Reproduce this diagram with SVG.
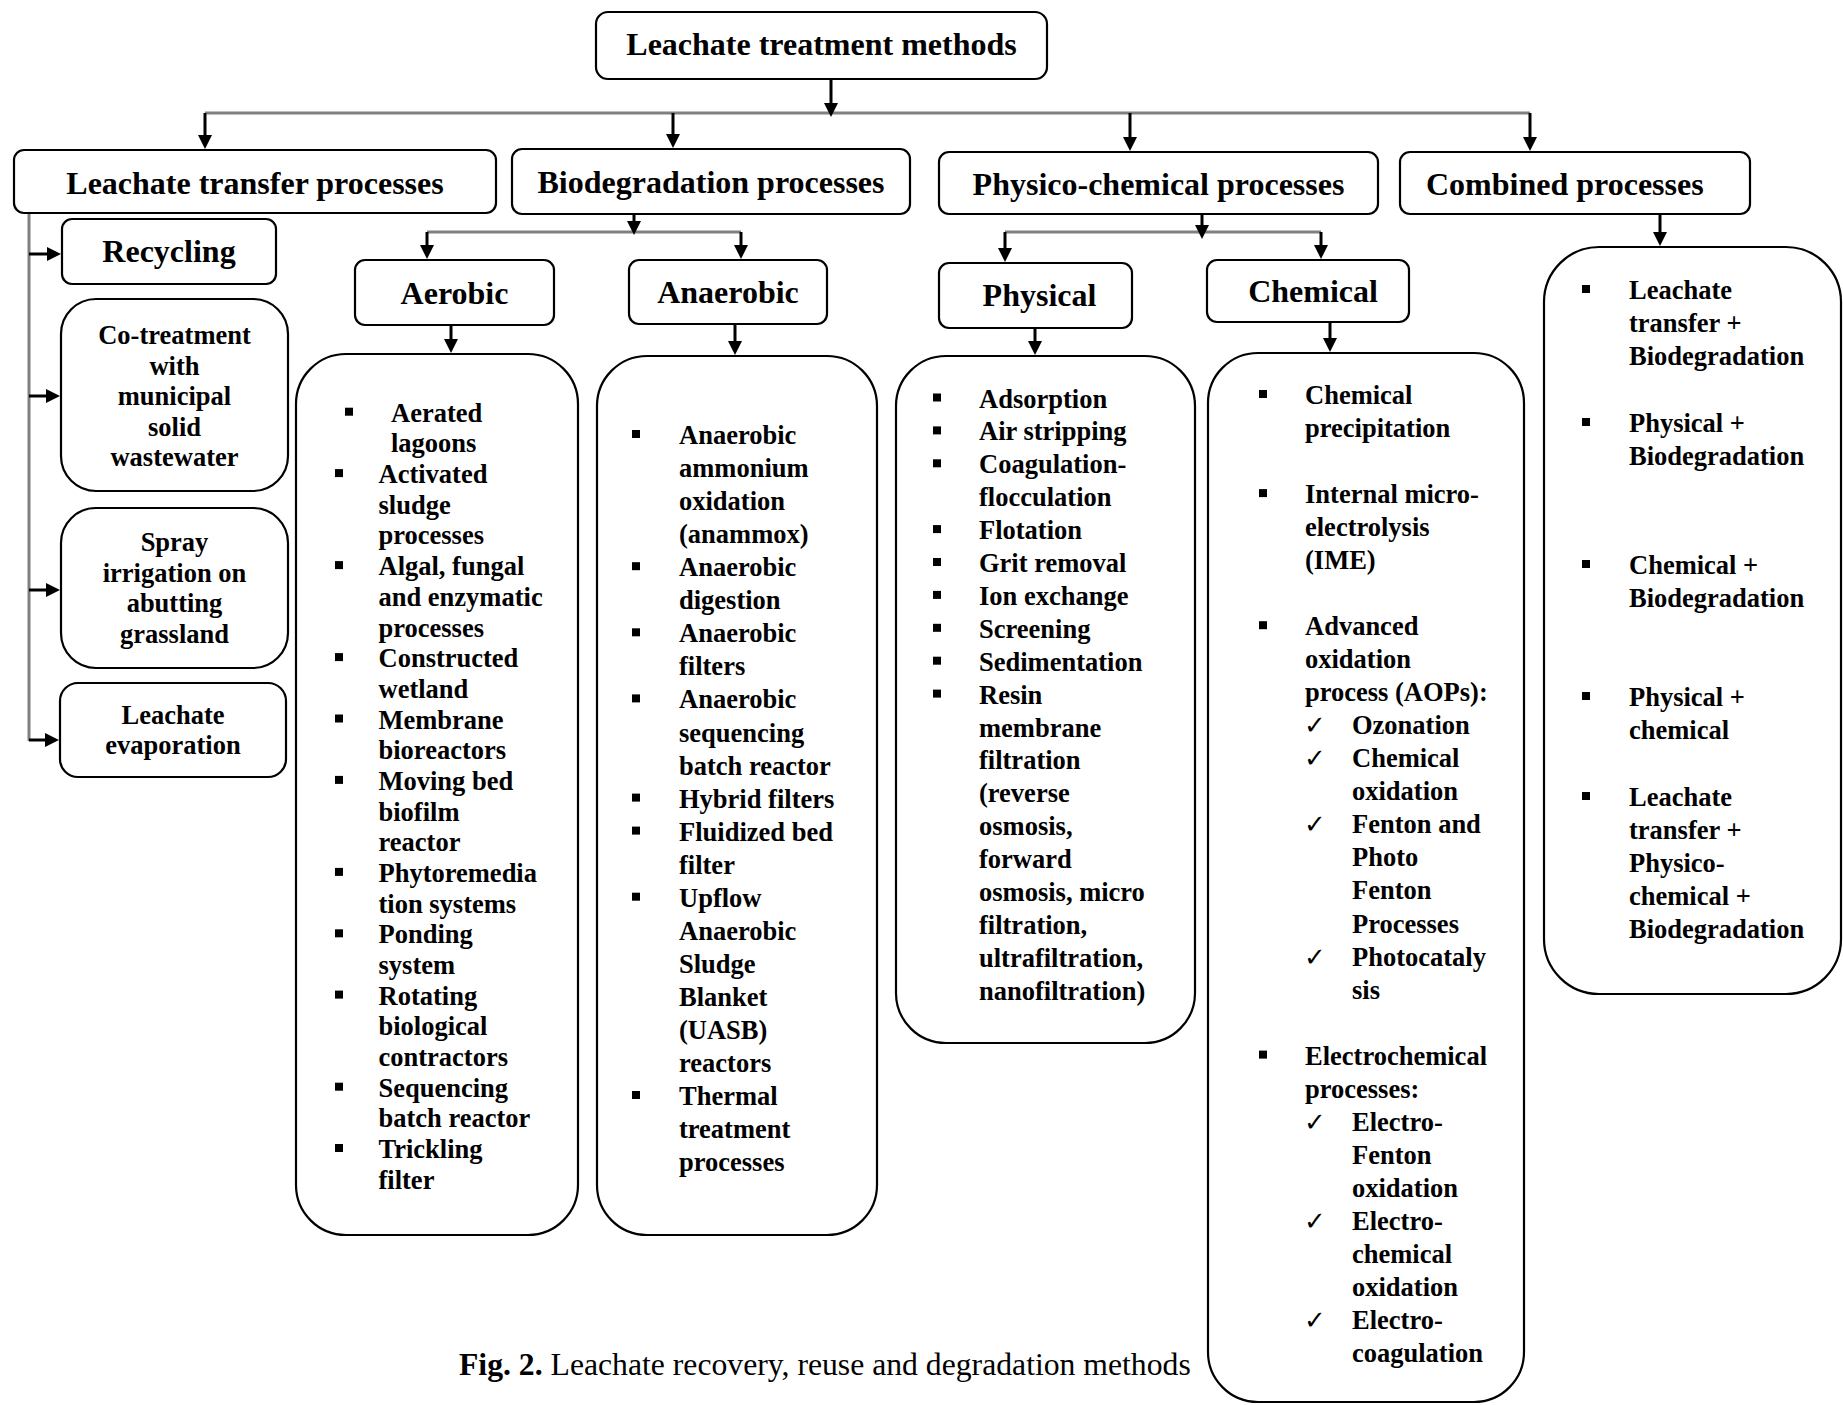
<svg xmlns="http://www.w3.org/2000/svg" width="1843" height="1405" viewBox="0 0 1843 1405">
<style>
.box{fill:#fff;stroke:#000;stroke-width:2.2}
.h1{font-family:"Liberation Serif","Times New Roman",serif;font-weight:bold;font-size:32px;fill:#000}
.li{font-family:"Liberation Serif","Times New Roman",serif;font-weight:bold;font-size:26.5px;fill:#000}
.ck{font-family:"DejaVu Sans",sans-serif;font-size:26px;fill:#000}
.cap{font-family:"Liberation Serif","Times New Roman",serif;font-size:31.7px;fill:#000}
.shaft{stroke:#000;stroke-width:3;fill:none}
.gray{stroke:#808080;stroke-width:3;fill:none}
.bul{fill:#000}
</style>
<defs>
<marker id="ah" viewBox="0 0 14 14" refX="10" refY="7" markerWidth="14" markerHeight="14" markerUnits="userSpaceOnUse" orient="auto">
<path d="M0,0 L14,7 L0,14 z" fill="#000"/>
</marker>
</defs>
<rect width="1843" height="1405" fill="#fff"/>

<g id="connectors">
<line class="gray" x1="205" y1="113" x2="1530" y2="113"/>
<line class="shaft" x1="831" y1="79" x2="831" y2="113" marker-end="url(#ah)"/>
<line class="shaft" x1="205" y1="113" x2="205" y2="145" marker-end="url(#ah)"/>
<line class="shaft" x1="673" y1="113" x2="673" y2="144" marker-end="url(#ah)"/>
<line class="shaft" x1="1130" y1="113" x2="1130" y2="147" marker-end="url(#ah)"/>
<line class="shaft" x1="1530" y1="113" x2="1530" y2="147" marker-end="url(#ah)"/>
<line class="gray" x1="427" y1="232" x2="741" y2="232"/>
<line class="shaft" x1="634" y1="214" x2="634" y2="231" marker-end="url(#ah)"/>
<line class="shaft" x1="427" y1="232" x2="427" y2="255" marker-end="url(#ah)"/>
<line class="shaft" x1="741" y1="232" x2="741" y2="255" marker-end="url(#ah)"/>
<line class="gray" x1="1005" y1="232" x2="1321" y2="232"/>
<line class="shaft" x1="1202" y1="214" x2="1202" y2="235" marker-end="url(#ah)"/>
<line class="shaft" x1="1005" y1="232" x2="1005" y2="258" marker-end="url(#ah)"/>
<line class="shaft" x1="1321" y1="232" x2="1321" y2="255" marker-end="url(#ah)"/>
<line class="shaft" x1="1660" y1="214" x2="1660" y2="242" marker-end="url(#ah)"/>
<line class="shaft" x1="451" y1="326" x2="451" y2="349" marker-end="url(#ah)"/>
<line class="shaft" x1="735" y1="324" x2="735" y2="351" marker-end="url(#ah)"/>
<line class="shaft" x1="1035" y1="328" x2="1035" y2="351" marker-end="url(#ah)"/>
<line class="shaft" x1="1330" y1="322" x2="1330" y2="348" marker-end="url(#ah)"/>
<line class="gray" x1="29" y1="213" x2="29" y2="741" stroke-width="2.5"/>
<line class="shaft" x1="29" y1="254" x2="57" y2="254" marker-end="url(#ah)"/>
<line class="shaft" x1="29" y1="396" x2="56" y2="396" marker-end="url(#ah)"/>
<line class="shaft" x1="29" y1="590" x2="56" y2="590" marker-end="url(#ah)"/>
<line class="shaft" x1="29" y1="740" x2="55" y2="740" marker-end="url(#ah)"/>
</g>

<g id="root">
<rect class="box" x="596" y="12" width="451" height="67" rx="12"/>
<text class="h1" x="821.5" y="55" text-anchor="middle">Leachate treatment methods</text>
</g>

<g id="transfer">
<rect class="box" x="14" y="150" width="482" height="63" rx="10"/>
<text class="h1" x="255" y="194" text-anchor="middle">Leachate transfer processes</text>
</g>
<g id="biodegradation">
<rect class="box" x="512" y="149" width="398" height="65" rx="10"/>
<text class="h1" x="711" y="193" text-anchor="middle">Biodegradation processes</text>
</g>
<g id="physicochemical">
<rect class="box" x="939" y="152" width="439" height="62" rx="10"/>
<text class="h1" x="1158.5" y="195" text-anchor="middle">Physico-chemical processes</text>
</g>
<g id="combined">
<rect class="box" x="1400" y="152" width="350" height="62" rx="10"/>
<text class="h1" x="1426" y="195">Combined processes</text>
</g>

<g id="recycling">
<rect class="box" x="62" y="219" width="214" height="65" rx="10"/>
<text class="h1" x="169" y="262" text-anchor="middle">Recycling</text>
</g>
<g id="cotreatment">
<rect class="box" x="61" y="299" width="227" height="192" rx="35"/>
<text class="li" text-anchor="middle"><tspan x="174.5" y="344">Co-treatment</tspan><tspan x="174.5" y="374.5">with</tspan><tspan x="174.5" y="405">municipal</tspan><tspan x="174.5" y="435.5">solid</tspan><tspan x="174.5" y="466">wastewater</tspan></text>
</g>
<g id="spray">
<rect class="box" x="61" y="508" width="227" height="160" rx="35"/>
<text class="li" text-anchor="middle"><tspan x="174.5" y="551">Spray</tspan><tspan x="174.5" y="581.7">irrigation on</tspan><tspan x="174.5" y="612.3">abutting</tspan><tspan x="174.5" y="643">grassland</tspan></text>
</g>
<g id="evaporation">
<rect class="box" x="60" y="683" width="226" height="94" rx="18"/>
<text class="li" text-anchor="middle"><tspan x="173" y="723.5">Leachate</tspan><tspan x="173" y="753.5">evaporation</tspan></text>
</g>

<g id="aerobic">
<rect class="box" x="355" y="260" width="199" height="65" rx="10"/>
<text class="h1" x="454.5" y="304" text-anchor="middle">Aerobic</text>
</g>
<g id="anaerobic">
<rect class="box" x="629" y="260" width="198" height="64" rx="10"/>
<text class="h1" x="728" y="303" text-anchor="middle">Anaerobic</text>
</g>
<g id="physical">
<rect class="box" x="939" y="263" width="193" height="65" rx="10"/>
<text class="h1" x="1039.5" y="306" text-anchor="middle">Physical</text>
</g>
<g id="chemical">
<rect class="box" x="1207" y="260" width="202" height="62" rx="10"/>
<text class="h1" x="1313" y="302" text-anchor="middle">Chemical</text>
</g>

<g id="aerobic-list">
<rect class="box" x="296" y="354" width="282" height="881" rx="50"/>
<g class="bul">
<rect x="345" y="407.7" width="8" height="8"/>
<rect x="335" y="469.1" width="8" height="8"/>
<rect x="335" y="561.1" width="8" height="8"/>
<rect x="335" y="653.1" width="8" height="8"/>
<rect x="335" y="714.5" width="8" height="8"/>
<rect x="335" y="775.9" width="8" height="8"/>
<rect x="335" y="867.9" width="8" height="8"/>
<rect x="335" y="929.3" width="8" height="8"/>
<rect x="335" y="990.6" width="8" height="8"/>
<rect x="335" y="1082.7" width="8" height="8"/>
<rect x="335" y="1144" width="8" height="8"/>
</g>
<text class="li"><tspan x="391" y="421.7">Aerated</tspan><tspan x="391" y="452.4">lagoons</tspan><tspan x="378.5" y="483.1">Activated</tspan><tspan x="378.5" y="513.7">sludge</tspan><tspan x="378.5" y="544.4">processes</tspan><tspan x="378.5" y="575.1">Algal, fungal</tspan><tspan x="378.5" y="605.8">and enzymatic</tspan><tspan x="378.5" y="636.5">processes</tspan><tspan x="378.5" y="667.1">Constructed</tspan><tspan x="378.5" y="697.8">wetland</tspan><tspan x="378.5" y="728.5">Membrane</tspan><tspan x="378.5" y="759.2">bioreactors</tspan><tspan x="378.5" y="789.9">Moving bed</tspan><tspan x="378.5" y="820.5">biofilm</tspan><tspan x="378.5" y="851.2">reactor</tspan><tspan x="378.5" y="881.9">Phytoremedia</tspan><tspan x="378.5" y="912.6">tion systems</tspan><tspan x="378.5" y="943.3">Ponding</tspan><tspan x="378.5" y="973.9">system</tspan><tspan x="378.5" y="1004.6">Rotating</tspan><tspan x="378.5" y="1035.3">biological</tspan><tspan x="378.5" y="1066">contractors</tspan><tspan x="378.5" y="1096.7">Sequencing</tspan><tspan x="378.5" y="1127.3">batch reactor</tspan><tspan x="378.5" y="1158">Trickling</tspan><tspan x="378.5" y="1188.7">filter</tspan></text>
</g>

<g id="anaerobic-list">
<rect class="box" x="597" y="356" width="280" height="879" rx="50"/>
<g class="bul">
<rect x="632" y="430" width="8" height="8"/>
<rect x="632" y="562.2" width="8" height="8"/>
<rect x="632" y="628.3" width="8" height="8"/>
<rect x="632" y="694.4" width="8" height="8"/>
<rect x="632" y="793.6" width="8" height="8"/>
<rect x="632" y="826.6" width="8" height="8"/>
<rect x="632" y="892.7" width="8" height="8"/>
<rect x="632" y="1091" width="8" height="8"/>
</g>
<text class="li"><tspan x="679" y="444">Anaerobic</tspan><tspan x="679" y="477">ammonium</tspan><tspan x="679" y="510.1">oxidation</tspan><tspan x="679" y="543.2">(anammox)</tspan><tspan x="679" y="576.2">Anaerobic</tspan><tspan x="679" y="609.3">digestion</tspan><tspan x="679" y="642.3">Anaerobic</tspan><tspan x="679" y="675.4">filters</tspan><tspan x="679" y="708.4">Anaerobic</tspan><tspan x="679" y="741.5">sequencing</tspan><tspan x="679" y="774.5">batch reactor</tspan><tspan x="679" y="807.6">Hybrid filters</tspan><tspan x="679" y="840.6">Fluidized bed</tspan><tspan x="679" y="873.7">filter</tspan><tspan x="679" y="906.7">Upflow</tspan><tspan x="679" y="939.8">Anaerobic</tspan><tspan x="679" y="972.8">Sludge</tspan><tspan x="679" y="1005.9">Blanket</tspan><tspan x="679" y="1038.9">(UASB)</tspan><tspan x="679" y="1072">reactors</tspan><tspan x="679" y="1105">Thermal</tspan><tspan x="679" y="1138.1">treatment</tspan><tspan x="679" y="1171.1">processes</tspan></text>
</g>

<g id="physical-list">
<rect class="box" x="896" y="356" width="299" height="687" rx="50"/>
<g class="bul">
<rect x="933" y="393.5" width="8" height="8"/>
<rect x="933" y="426.4" width="8" height="8"/>
<rect x="933" y="459.3" width="8" height="8"/>
<rect x="933" y="525.1" width="8" height="8"/>
<rect x="933" y="558" width="8" height="8"/>
<rect x="933" y="590.9" width="8" height="8"/>
<rect x="933" y="623.8" width="8" height="8"/>
<rect x="933" y="656.7" width="8" height="8"/>
<rect x="933" y="689.6" width="8" height="8"/>
</g>
<text class="li"><tspan x="979" y="407.5">Adsorption</tspan><tspan x="979" y="440.4">Air stripping</tspan><tspan x="979" y="473.3">Coagulation-</tspan><tspan x="979" y="506.2">flocculation</tspan><tspan x="979" y="539.1">Flotation</tspan><tspan x="979" y="572">Grit removal</tspan><tspan x="979" y="604.9">Ion exchange</tspan><tspan x="979" y="637.8">Screening</tspan><tspan x="979" y="670.7">Sedimentation</tspan><tspan x="979" y="703.6">Resin</tspan><tspan x="979" y="736.5">membrane</tspan><tspan x="979" y="769.4">filtration</tspan><tspan x="979" y="802.3">(reverse</tspan><tspan x="979" y="835.2">osmosis,</tspan><tspan x="979" y="868.1">forward</tspan><tspan x="979" y="901">osmosis, micro</tspan><tspan x="979" y="933.9">filtration,</tspan><tspan x="979" y="966.8">ultrafiltration,</tspan><tspan x="979" y="999.7">nanofiltration)</tspan></text>
</g>

<g id="chemical-list">
<rect class="box" x="1208" y="353" width="316" height="1049" rx="50"/>
<g class="bul">
<rect x="1259" y="390" width="8" height="8"/>
<rect x="1259" y="489.1" width="8" height="8"/>
<rect x="1259" y="621.2" width="8" height="8"/>
<rect x="1259" y="1050.6" width="8" height="8"/>
</g>
<text class="ck"><tspan x="1304" y="734.3">✓</tspan><tspan x="1304" y="767.3">✓</tspan><tspan x="1304" y="833.4">✓</tspan><tspan x="1304" y="965.5">✓</tspan><tspan x="1304" y="1130.7">✓</tspan><tspan x="1304" y="1229.8">✓</tspan><tspan x="1304" y="1328.8">✓</tspan></text>
<text class="li"><tspan x="1305" y="404">Chemical</tspan><tspan x="1305" y="437">precipitation</tspan><tspan x="1305" y="503.1">Internal micro-</tspan><tspan x="1305" y="536.1">electrolysis</tspan><tspan x="1305" y="569.2">(IME)</tspan><tspan x="1305" y="635.2">Advanced</tspan><tspan x="1305" y="668.2">oxidation</tspan><tspan x="1305" y="701.3">process (AOPs):</tspan><tspan x="1352" y="734.3">Ozonation</tspan><tspan x="1352" y="767.3">Chemical</tspan><tspan x="1352" y="800.3">oxidation</tspan><tspan x="1352" y="833.4">Fenton and</tspan><tspan x="1352" y="866.4">Photo</tspan><tspan x="1352" y="899.4">Fenton</tspan><tspan x="1352" y="932.5">Processes</tspan><tspan x="1352" y="965.5">Photocataly</tspan><tspan x="1352" y="998.5">sis</tspan><tspan x="1305" y="1064.6">Electrochemical</tspan><tspan x="1305" y="1097.6">processes:</tspan><tspan x="1352" y="1130.7">Electro-</tspan><tspan x="1352" y="1163.7">Fenton</tspan><tspan x="1352" y="1196.7">oxidation</tspan><tspan x="1352" y="1229.8">Electro-</tspan><tspan x="1352" y="1262.8">chemical</tspan><tspan x="1352" y="1295.8">oxidation</tspan><tspan x="1352" y="1328.8">Electro-</tspan><tspan x="1352" y="1361.9">coagulation</tspan></text>
</g>

<g id="combined-list">
<rect class="box" x="1544" y="247" width="297" height="747" rx="55"/>
<g class="bul">
<rect x="1582" y="285" width="8" height="8"/>
<rect x="1582" y="418" width="8" height="8"/>
<rect x="1582" y="560" width="8" height="8"/>
<rect x="1582" y="692" width="8" height="8"/>
<rect x="1582" y="792" width="8" height="8"/>
</g>
<text class="li"><tspan x="1629" y="299">Leachate</tspan><tspan x="1629" y="332">transfer +</tspan><tspan x="1629" y="365">Biodegradation</tspan><tspan x="1629" y="432">Physical +</tspan><tspan x="1629" y="465">Biodegradation</tspan><tspan x="1629" y="574">Chemical +</tspan><tspan x="1629" y="607">Biodegradation</tspan><tspan x="1629" y="706">Physical +</tspan><tspan x="1629" y="739">chemical</tspan><tspan x="1629" y="806">Leachate</tspan><tspan x="1629" y="839">transfer +</tspan><tspan x="1629" y="872">Physico-</tspan><tspan x="1629" y="905">chemical +</tspan><tspan x="1629" y="938">Biodegradation</tspan></text>
</g>

<g id="caption">
<text class="cap" x="459" y="1375"><tspan font-weight="bold">Fig. 2.</tspan> Leachate recovery, reuse and degradation methods</text>
</g>
</svg>
